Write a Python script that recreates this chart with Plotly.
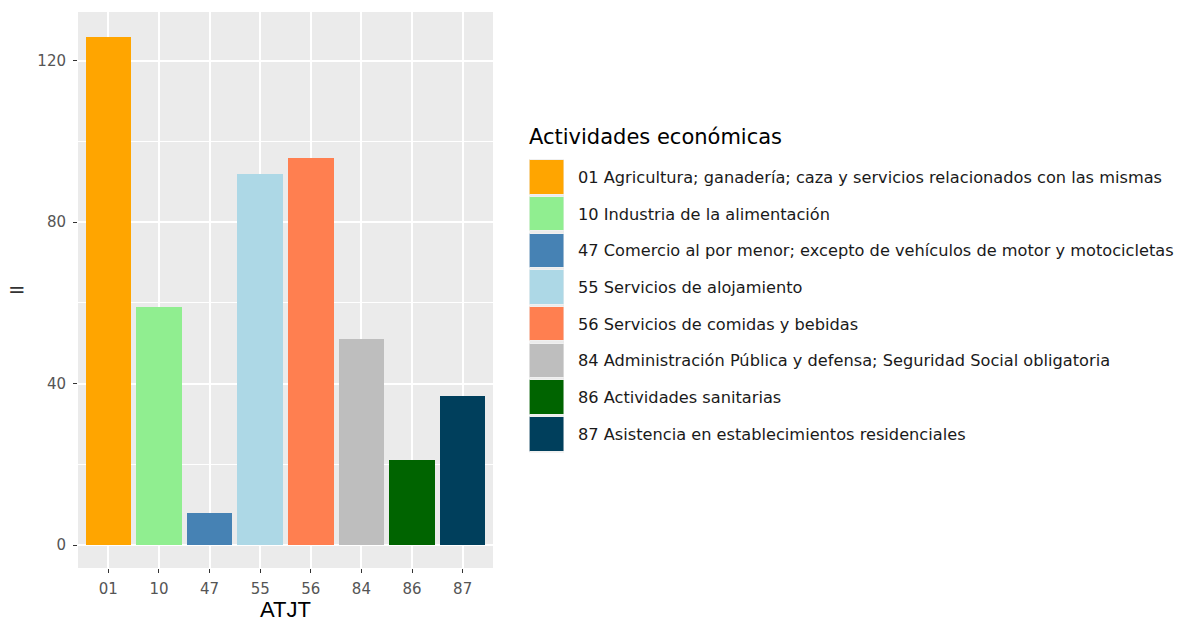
import plotly.graph_objects as go

# data
codes = ["01", "10", "47", "55", "56", "84", "86", "87"]
counts = [126, 59, 8, 92, 96, 51, 21, 37]
labels = [
    "01 Agricultura; ganadería; caza y servicios relacionados con las mismas",
    "10 Industria de la alimentación",
    "47 Comercio al por menor; excepto de vehículos de motor y motocicletas",
    "55 Servicios de alojamiento",
    "56 Servicios de comidas y bebidas",
    "84 Administración Pública y defensa; Seguridad Social obligatoria",
    "86 Actividades sanitarias",
    "87 Asistencia en establecimientos residenciales",
]
colors = ["#FFA500", "#90EE90", "#4682B4", "#ADD8E6",
          "#FF7F50", "#BEBEBE", "#006400", "#003F5C"]
y_ticks = [0, 40, 80, 120]

W, H = 1188, 622
FONT = "DejaVu Sans, Arial, sans-serif"
FONT_ARIAL = "Arial, Liberation Sans, sans-serif"


def px_x(p):
    return p / W


def px_y(p):
    return (H - p) / H


fig = go.Figure()

# main bars
fig.add_trace(go.Bar(
    x=codes, y=counts, marker=dict(color=colors, line=dict(width=0)),
    width=0.9, showlegend=False, xaxis="x", yaxis="y",
))

# legend keys drawn as a tiny horizontal bar panel (one row per activity)
fig.add_trace(go.Bar(
    y=labels, x=[1] * len(labels), orientation="h",
    marker=dict(color=colors, line=dict(width=1, color="#f0f0f0")),
    width=0.94, showlegend=False, xaxis="x2", yaxis="y2", hoverinfo="skip",
))

annotations = []
for lab in labels:
    annotations.append(dict(
        text=lab, x=px_x(576), xref="paper", y=lab, yref="y2",
        xanchor="left", yanchor="middle", showarrow=False,
        font=dict(family=FONT, size=16.2, color="#1a1a1a"),
    ))

annotations.append(dict(
    text="Actividades económicas", x=px_x(527), y=px_y(137),
    xref="paper", yref="paper", xanchor="left", yanchor="middle",
    showarrow=False, font=dict(family=FONT, size=21, color="#000000"),
))
annotations.append(dict(
    text="=", x=px_x(17), y=px_y(290), xref="paper", yref="paper",
    xanchor="center", yanchor="middle", showarrow=False,
    font=dict(family=FONT, size=21, color="#333333"),
))

fig.update_layout(
    width=W, height=H,
    margin=dict(l=0, r=0, t=0, b=0),
    paper_bgcolor="white",
    plot_bgcolor="#EBEBEB",
    font=dict(family=FONT),
    bargap=0,
    annotations=annotations,
    xaxis=dict(
        domain=[px_x(78), px_x(493)],
        type="category", categoryorder="array", categoryarray=codes,
        range=[-0.6, len(codes) - 0.4],
        showgrid=True, gridcolor="white", gridwidth=1.8,
        ticks="outside", ticklen=4, tickwidth=1.2, tickcolor="#333333",
        ticklabelstandoff=3,
        tickfont=dict(family=FONT, size=15, color="#555555"),
        title=dict(text="ATJT", standoff=4,
                   font=dict(family=FONT_ARIAL, size=22, color="#000000")),
        zeroline=False, showline=False, automargin=False,
    ),
    yaxis=dict(
        domain=[px_y(568), px_y(12)],
        range=[-5.7, 132.1],
        tickvals=y_ticks,
        showgrid=True, gridcolor="white", gridwidth=1.8,
        minor=dict(dtick=20, tick0=0, showgrid=True, gridcolor="white",
                   gridwidth=0.8),
        ticks="outside", ticklen=4, tickwidth=1.2, tickcolor="#333333",
        ticklabelstandoff=4,
        tickfont=dict(family=FONT, size=15, color="#555555"),
        zeroline=False, showline=False, automargin=False,
    ),
    xaxis2=dict(
        domain=[px_x(529.5), px_x(564)], anchor="y2",
        range=[0, 1], visible=False, fixedrange=True,
    ),
    yaxis2=dict(
        domain=[px_y(452.6), px_y(159)], anchor="x2",
        type="category", categoryorder="array", categoryarray=labels,
        autorange="reversed", visible=False, fixedrange=True,
    ),
)

# the page body has a default 8px margin; drop it so the figure fills the window
fig.write_html("out.html", config={"displayModeBar": False},
               post_script="document.body.style.margin='0';")
